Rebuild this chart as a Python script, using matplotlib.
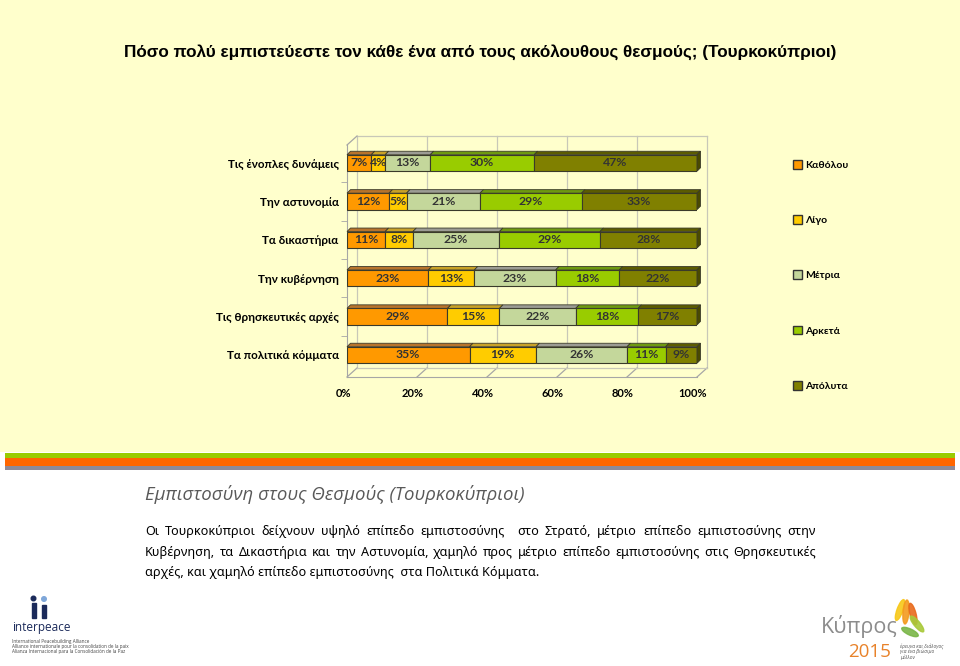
import matplotlib
matplotlib.use("Agg")
import matplotlib.pyplot as plt
import matplotlib.transforms as mtransforms
from matplotlib.patches import Patch, Polygon, Rectangle, Ellipse, Circle
import numpy as np

# data
categories = ["Τις ένοπλες δυνάμεις", "Την αστυνομία", "Τα δικαστήρια",
              "Την κυβέρνηση", "Τις θρησκευτικές αρχές", "Τα πολιτικά κόμματα"]
levels = ["Καθόλου", "Λίγο", "Μέτρια", "Αρκετά", "Απόλυτα"]
not_at_all = [7, 12, 11, 23, 29, 35]
a_little = [4, 5, 8, 13, 15, 19]
moderately = [13, 21, 25, 23, 22, 26]
quite = [30, 29, 29, 18, 18, 11]
completely = [47, 33, 28, 22, 17, 9]
x_ticks = [0, 20, 40, 60, 80, 100]

title = "Πόσο πολύ εμπιστεύεστε τον κάθε ένα από τους ακόλουθους θεσμούς; (Τουρκοκύπριοι)"
heading = "Εμπιστοσύνη στους Θεσμούς (Τουρκοκύπριοι)"
body_lines = [
    "Οι Τουρκοκύπριοι δείχνουν υψηλό επίπεδο εμπιστοσύνης  στο Στρατό, μέτριο επίπεδο εμπιστοσύνης στην",
    "Κυβέρνηση, τα Δικαστήρια και την Αστυνομία, χαμηλό προς μέτριο επίπεδο εμπιστοσύνης στις Θρησκευτικές",
    "αρχές, και χαμηλό επίπεδο εμπιστοσύνης  στα Πολιτικά Κόμματα.",
]

face_colors = ["#FF9900", "#FFCC00", "#C4D79B", "#99CC00", "#808000"]
top_colors = ["#B8742C", "#C9A227", "#9C9C94", "#6E9A10", "#5C5C00"]
side_color = "#4A4A00"
edge = "#3A3A2A"

LABEL_FONT = ["Lato", "Noto Sans", "DejaVu Sans"]
W, H = 960, 666

fig = plt.figure(figsize=(W / 100, H / 100), dpi=100)
fig.patch.set_facecolor("white")

# background / decoration layer in pixel coordinates
bg = fig.add_axes([0, 0, 1, 1], zorder=0)
bg.set_xlim(0, W)
bg.set_ylim(H, 0)
bg.axis("off")
bg.add_patch(Rectangle((0, 0), W, 452, facecolor="#FFFFCC", edgecolor="none"))
bg.add_patch(Rectangle((5, 453), 950, 4.5, facecolor="#99CC00", edgecolor="none"))
bg.add_patch(Rectangle((5, 457.5), 950, 8.5, facecolor="#FF6600", edgecolor="none"))
bg.add_patch(Rectangle((5, 466), 950, 4, facecolor="#8E8A98", edgecolor="none"))

bg.text(480, 52, title, ha="center", va="center", fontsize=12.3, fontweight="bold",
        family=["Liberation Sans Narrow", "Liberation Sans", "DejaVu Sans"])

# chart axes
ax = fig.add_axes([347 / W, 1 - 377 / H, 350 / W, 247 / H], zorder=1)
ax.patch.set_alpha(0)
pitch = 38.4
row0 = 163
ax.set_xlim(0, 1)
ax.set_ylim((377 - row0) / pitch, (130 - row0) / pitch)
y_bottom = (377 - row0) / pitch

bar_dx, bar_dy = 3.5 / 350, -3.5 / pitch
wall_dx, wall_dy = 10 / 350, -9 / pitch
floor_front = y_bottom
floor_back = floor_front + wall_dy
wall_top_back = (136 - row0) / pitch
wall_top_front = wall_top_back - wall_dy

grid_c = "#C8C8B8"
frame_c = "#A6A6A6"
for t in x_ticks:
    xv = t / 100
    ax.plot([xv + wall_dx] * 2, [wall_top_back, floor_back], color=grid_c, lw=0.9, zorder=1, clip_on=False)
    ax.plot([xv, xv + wall_dx], [floor_front, floor_back], color=frame_c, lw=0.9, zorder=1, clip_on=False)
ax.plot([wall_dx, 1 + wall_dx], [wall_top_back] * 2, color=grid_c, lw=0.9, zorder=1, clip_on=False)
ax.plot([wall_dx, 1 + wall_dx], [floor_back] * 2, color=grid_c, lw=0.9, zorder=1, clip_on=False)
ax.plot([0, wall_dx], [wall_top_front, wall_top_back], color=frame_c, lw=0.9, zorder=1, clip_on=False)

for s in ["top", "right"]:
    ax.spines[s].set_visible(False)
ax.spines["left"].set_bounds(floor_front, wall_top_front)
ax.spines["left"].set_color(frame_c)
ax.spines["bottom"].set_color(frame_c)

# bars
values = np.array([not_at_all, a_little, moderately, quite, completely], dtype=float)
shares = values / values.sum(axis=0)
rows = np.arange(len(categories))
bh = 0.43
left = np.zeros(len(categories))
for j, lev in enumerate(levels):
    w = shares[j]
    ax.barh(rows, w, left=left, height=bh, color=face_colors[j], edgecolor=edge,
            linewidth=0.8, zorder=3)
    for i in rows:
        l, yt = left[i], i - bh / 2
        ax.add_patch(Polygon([(l, yt), (l + w[i], yt), (l + w[i] + bar_dx, yt + bar_dy),
                              (l + bar_dx, yt + bar_dy)], closed=True,
                             facecolor=top_colors[j], edgecolor=edge, lw=0.6, zorder=3,
                             clip_on=False))
        ax.text(l + w[i] / 2, i, f"{int(values[j, i])}%", ha="center", va="center",
                fontsize=8.8, fontweight="bold", color="#333333", zorder=4, family=LABEL_FONT)
    left = left + w
for i in rows:
    r, yt, yb = left[i], i - bh / 2, i + bh / 2
    ax.add_patch(Polygon([(r, yt), (r + bar_dx, yt + bar_dy), (r + bar_dx, yb + bar_dy), (r, yb)],
                         closed=True, facecolor=side_color, edgecolor=edge, lw=0.6, zorder=3,
                         clip_on=False))

ax.set_yticks(rows, categories, fontsize=8.4, fontweight="bold", family=LABEL_FONT)
ax.set_yticks(rows[:-1] + 0.5, minor=True)
ax.tick_params(axis="y", which="major", length=0, pad=6)
ax.tick_params(axis="y", which="minor", length=4, color=frame_c)
ax.set_xticks([t / 100 for t in x_ticks], [f"{t}%" for t in x_ticks], fontsize=8,
              fontweight="bold", family=LABEL_FONT)
ax.tick_params(axis="x", length=0, pad=8)
shift = mtransforms.ScaledTranslation(-4 / 100, 0, fig.dpi_scale_trans)
for lab in ax.get_xticklabels():
    lab.set_transform(lab.get_transform() + shift)

handles = [Patch(facecolor=c, edgecolor="#333333", linewidth=1) for c in face_colors]
fig.legend(handles, levels, loc="upper left", bbox_to_anchor=(793 / W, 1 - 160 / H),
           frameon=False, prop=dict(family=LABEL_FONT, weight="bold", size=7.5),
           handlelength=0.9, handleheight=0.9, handletextpad=0.3, labelspacing=4.35,
           borderpad=0, borderaxespad=0)

# text below the chart
bg.text(145, 494, heading, ha="left", va="center", fontsize=13.4, style="italic",
        color="#595959", family=["Open Sans", "Noto Sans"])

renderer = fig.canvas.get_renderer()
body_kw = dict(fontsize=9.1, color="black", va="baseline", family=["Noto Sans", "DejaVu Sans"])
line_y = [535, 556, 576]
for k, line in enumerate(body_lines):
    if k == len(body_lines) - 1:
        bg.text(145, line_y[k], line, ha="left", **body_kw)
        continue
    words = line.split(" ")
    texts = [bg.text(0, line_y[k], wd, ha="left", **body_kw) for wd in words]
    widths = [t.get_window_extent(renderer).width if wd else 0 for t, wd in zip(texts, words)]
    gap = (816 - 145 - sum(widths)) / (len(words) - 1)
    x = 145
    for t, wd in zip(texts, widths):
        t.set_x(x)
        x += wd + gap

# interpeace logo
navy = "#1B2A5A"
bg.add_patch(Circle((33.5, 598.5), 2.3, color=navy))
bg.add_patch(Rectangle((32, 603), 3.5, 15, color=navy))
bg.add_patch(Circle((44, 599), 2.3, color="#7FA7D9"))
bg.add_patch(Rectangle((42.3, 604.5), 3.5, 13.5, color=navy))
bg.text(12, 628, "interpeace", ha="left", va="center", fontsize=8.5, color=navy,
        family=["Open Sans", "DejaVu Sans"])
for yy, s in zip([642, 646.5, 651],
                 ["International Peacebuilding Alliance",
                  "Alliance internationale pour la consolidation de la paix",
                  "Alianza Internacional para la Consolidación de la Paz"]):
    bg.text(12, yy, s, ha="left", va="center", fontsize=3.3, color="#444444",
            family=["Open Sans", "DejaVu Sans"])

# Kypros 2015 logo
bg.text(821, 627, "Κύπρος", ha="left", va="center", fontsize=15.5, color="#8C8C8C",
        family=["Open Sans", "Noto Sans"])
bg.text(848, 652, "2015", ha="left", va="center", fontsize=13.5, color="#E8822A",
        family=["Open Sans", "Noto Sans"])
for (cx, cy, w, h, ang, c) in [(900, 610, 6, 22, 20, "#F7C818"), (906, 612, 6, 24, 5, "#F39A1E"),
                               (913, 614, 6, 22, -15, "#E86A1C"), (917, 624, 6, 20, -40, "#A9C93A"),
                               (910, 632, 6, 18, -65, "#7AB648")]:
    bg.add_patch(Ellipse((cx, cy), w, h, angle=ang, color=c, alpha=0.9))
for yy, s in zip([646, 651.5, 657], ["έρευνα και διάλογος", "για ένα βιώσιμο", "μέλλον"]):
    bg.text(900, yy, s, ha="left", va="center", fontsize=3.5, color="#555555",
            style="italic", family=["Open Sans", "Noto Sans"])

fig.savefig("out.png", dpi=100, facecolor=fig.get_facecolor())
